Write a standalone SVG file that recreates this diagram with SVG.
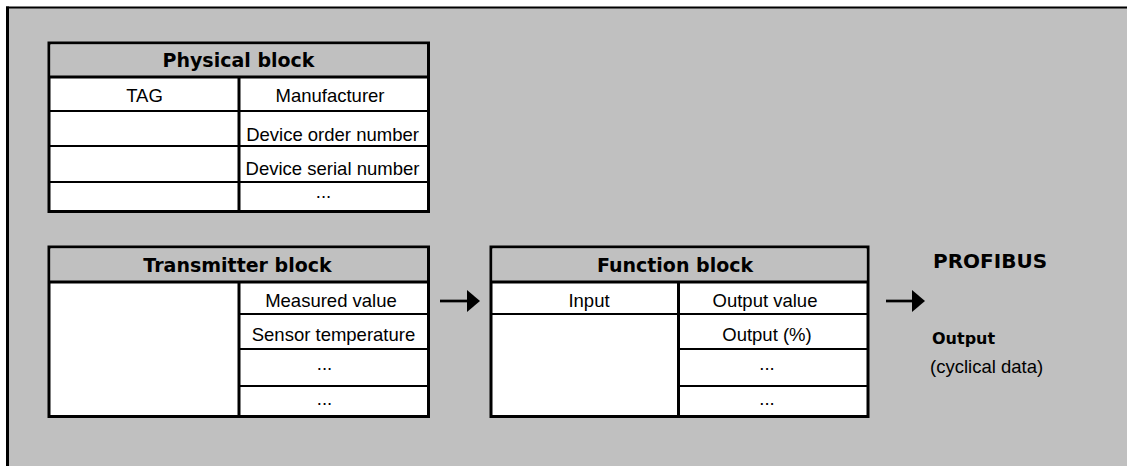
<svg xmlns="http://www.w3.org/2000/svg" width="1127" height="466" viewBox="0 0 1127 466">
<style>
.frame{fill:#fff;stroke:#000;stroke-width:3}
.hdr{fill:#c0c0c0}
.thick{stroke:#000;stroke-width:3;fill:none}
.thin{stroke:#000;stroke-width:2;fill:none}
.t{font-family:"Liberation Sans",Arial,sans-serif;font-size:18.5px;fill:#000;text-anchor:middle}
.h{font-family:"DejaVu Sans",Verdana,sans-serif;font-weight:bold;font-size:19px;fill:#000;text-anchor:middle}
.conn{stroke:#000;stroke-width:2.7;fill:none}
</style>
<defs>
<marker id="ah" viewBox="0 0 13 22" refX="0" refY="11" markerWidth="13" markerHeight="22" markerUnits="userSpaceOnUse" orient="auto">
<path d="M0,0 L13,11 L0,22 Z" fill="#000"/>
</marker>
</defs>
<rect x="0" y="0" width="1127" height="466" fill="#fff"/>
<rect x="6" y="7" width="1121" height="459" fill="#c0c0c0"/>
<rect x="6" y="6.5" width="1121" height="2" fill="#000"/>
<rect x="6" y="6.5" width="3" height="459.5" fill="#000"/>

<g id="physical-block">
<rect class="frame" x="49" y="43" width="379.5" height="168.5"/>
<rect class="hdr" x="50.5" y="44.5" width="376.5" height="32.5"/>
<line class="thick" x1="49" y1="77" x2="428.5" y2="77"/>
<line class="thick" x1="239" y1="77" x2="239" y2="211.5"/>
<line class="thin" x1="49" y1="111" x2="428.5" y2="111"/>
<line class="thin" x1="49" y1="146" x2="428.5" y2="146"/>
<line class="thin" x1="49" y1="182" x2="428.5" y2="182"/>
<text class="h" x="238.5" y="66.5">Physical block</text>
<text class="t" x="144.5" y="101.5">TAG</text>
<text class="t" x="330" y="101.5">Manufacturer</text>
<text class="t" x="332.5" y="141">Device order number</text>
<text class="t" x="332.5" y="175">Device serial number</text>
<text class="t" x="323.5" y="198">...</text>
</g>

<g id="transmitter-block">
<rect class="frame" x="49" y="247" width="379.5" height="169.5"/>
<rect class="hdr" x="50.5" y="248.5" width="376.5" height="33.5"/>
<line class="thick" x1="49" y1="282" x2="428.5" y2="282"/>
<line class="thick" x1="239" y1="282" x2="239" y2="416.5"/>
<line class="thin" x1="239" y1="314" x2="428.5" y2="314"/>
<line class="thin" x1="239" y1="349" x2="428.5" y2="349"/>
<line class="thin" x1="239" y1="386" x2="428.5" y2="386"/>
<text class="h" x="237.5" y="271.5">Transmitter block</text>
<text class="t" x="331" y="306.5">Measured value</text>
<text class="t" x="333.5" y="341">Sensor temperature</text>
<text class="t" x="324.5" y="370">...</text>
<text class="t" x="324.5" y="405">...</text>
</g>

<g id="function-block">
<rect class="frame" x="491" y="247" width="377" height="169.5"/>
<rect class="hdr" x="492.5" y="248.5" width="374" height="33.5"/>
<line class="thick" x1="491" y1="282" x2="868" y2="282"/>
<line class="thick" x1="678.5" y1="282" x2="678.5" y2="416.5"/>
<line class="thin" x1="491" y1="314" x2="868" y2="314"/>
<line class="thin" x1="678.5" y1="349" x2="868" y2="349"/>
<line class="thin" x1="678.5" y1="386" x2="868" y2="386"/>
<text class="h" x="675" y="271.5">Function block</text>
<text class="t" x="589" y="306.5">Input</text>
<text class="t" x="765" y="306.5">Output value</text>
<text class="t" x="767" y="341">Output (%)</text>
<text class="t" x="767" y="370">...</text>
<text class="t" x="767" y="405">...</text>
</g>

<g id="profibus-output">
<text x="933" y="268" style="font-family:'DejaVu Sans',Verdana,sans-serif;font-weight:bold;font-size:20px;fill:#000">PROFIBUS</text>
<text x="932" y="344" style="font-family:'DejaVu Sans',Verdana,sans-serif;font-weight:bold;font-size:16px;fill:#000">Output</text>
<text x="930" y="373" style="font-family:'Liberation Sans',Arial,sans-serif;font-size:18.5px;fill:#000">(cyclical data)</text>
</g>

<g id="connectors">
<line class="conn" x1="440" y1="301" x2="467" y2="301" marker-end="url(#ah)"/>
<line class="conn" x1="886" y1="301" x2="912" y2="301" marker-end="url(#ah)"/>
</g>
</svg>
